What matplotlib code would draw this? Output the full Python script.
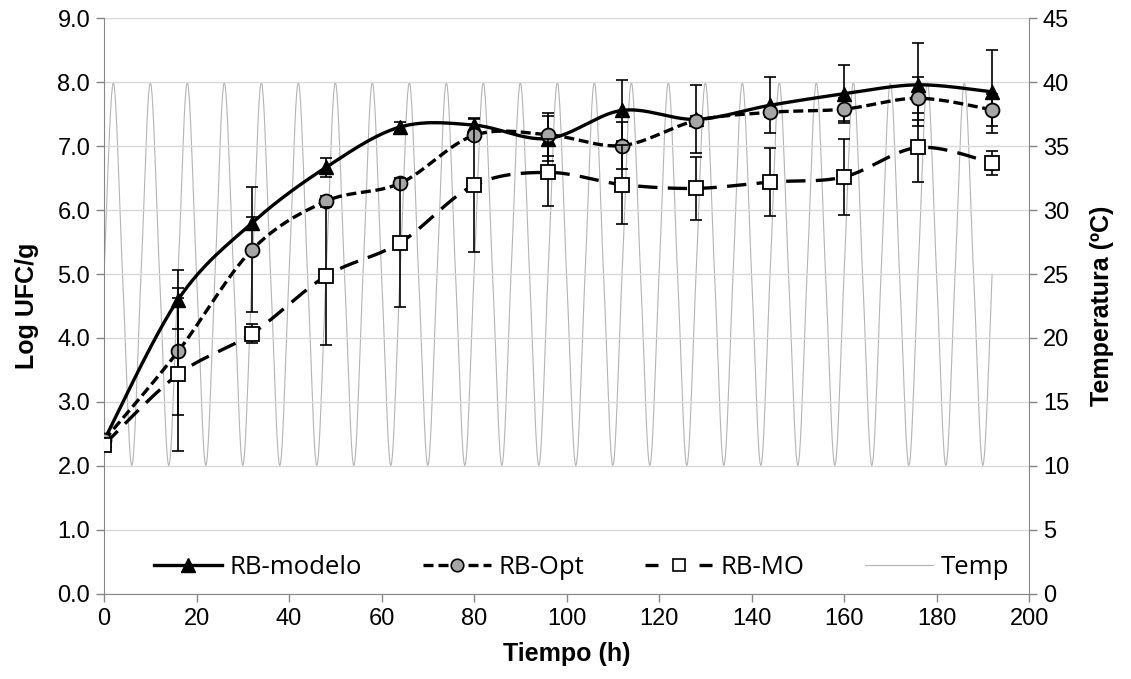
import matplotlib
matplotlib.use('Agg')
import matplotlib.pyplot as plt
from matplotlib.lines import Line2D
import numpy as np

# Datos
tiempo = [0, 16, 32, 48, 64, 80, 96, 112, 128, 144, 160, 176, 192]

rb_modelo = [2.40, 4.60, 5.80, 6.67, 7.30, 7.33, 7.12, 7.56, 7.42, 7.64, 7.82, 7.96, 7.85]
rb_modelo_err = [0.05, 0.46, 0.10, 0.15, 0.08, 0.10, 0.35, 0.48, 0.53, 0.44, 0.45, 0.65, 0.65]

rb_opt = [2.40, 3.79, 5.38, 6.14, 6.42, 7.17, 7.18, 7.01, 7.40, 7.53, 7.58, 7.75, 7.57]
rb_opt_err = [0.03, 0.99, 0.98, 0.08, 0.08, 0.08, 0.34, 0.37, 0.08, 0.08, 0.18, 0.34, 0.25]

rb_mo = [2.33, 3.43, 4.07, 4.97, 5.49, 6.39, 6.59, 6.40, 6.34, 6.44, 6.52, 6.98, 6.74]
rb_mo_err = [0.03, 1.19, 0.15, 1.08, 1.01, 1.05, 0.52, 0.62, 0.49, 0.53, 0.60, 0.54, 0.19]

# Programa de temperatura: ciclo de 8 h (25-40-25-10 ºC) cada 2 h
temp_horas = list(range(0, 193, 2))
temp_ciclo = [25, 40, 25, 10]
temp_valores = temp_ciclo * 24 + [25]


def suavizar(x, y, n=40):
    """Curva suavizada estilo Excel (Catmull-Rom como Bezier)"""
    x = np.asarray(x, float)
    y = np.asarray(y, float)
    px = np.concatenate([[x[0]], x, [x[-1]]])
    py = np.concatenate([[y[0]], y, [y[-1]]])
    s = np.linspace(0, 1, n)
    xs, ys = [], []
    for i in range(len(x) - 1):
        x0, y0 = px[i + 1], py[i + 1]
        x3, y3 = px[i + 2], py[i + 2]
        x1 = x0 + (px[i + 2] - px[i]) / 6
        y1 = y0 + (py[i + 2] - py[i]) / 6
        x2 = x3 - (px[i + 3] - px[i + 1]) / 6
        y2 = y3 - (py[i + 3] - py[i + 1]) / 6
        b0 = (1 - s) ** 3
        b1 = 3 * (1 - s) ** 2 * s
        b2 = 3 * (1 - s) * s ** 2
        b3 = s ** 3
        xs.append(b0 * x0 + b1 * x1 + b2 * x2 + b3 * x3)
        ys.append(b0 * y0 + b1 * y1 + b2 * y2 + b3 * y3)
    return np.concatenate(xs), np.concatenate(ys)


plt.rcParams['font.family'] = 'Liberation Sans'
gris_eje = '#868686'

fig = plt.figure(figsize=(11.31, 6.79), dpi=100)
ax = fig.add_axes([0.0920, 0.1256, 0.8179, 0.8474])
ax2 = ax.twinx()

# Temperatura en el eje secundario (detras)
tx, ty = suavizar(temp_horas, temp_valores, n=12)
ax2.plot(tx, ty, color='#b4b4b4', linewidth=0.8)
ax2.set_ylim(0, 45)
ax2.set_yticks(range(0, 46, 5))

ax.set_zorder(ax2.get_zorder() + 1)
ax.patch.set_visible(False)

series = [
    (rb_modelo, rb_modelo_err, '-', dict(marker='^', markersize=10, markerfacecolor='black', markeredgecolor='black')),
    (rb_opt, rb_opt_err, (0, (3.0, 1.4)), dict(marker='o', markersize=10, markerfacecolor='#a6a6a6', markeredgecolor='black', markeredgewidth=1.3)),
    (rb_mo, rb_mo_err, (0, (5.8, 3.1)), dict(marker='s', markersize=10, markerfacecolor='white', markeredgecolor='black', markeredgewidth=1.3)),
]

for k, (valores, errores, estilo, mk) in enumerate(series):
    sx, sy = suavizar(tiempo, valores)
    ax.plot(sx, sy, color='black', linewidth=2.4, linestyle=estilo, zorder=3 + 3 * k)
    ax.errorbar(tiempo, valores, yerr=errores, fmt='none', ecolor='black',
                elinewidth=1.2, capsize=4.5, capthick=1.2, zorder=4 + 3 * k)
    ax.plot(tiempo, valores, linestyle='none', zorder=5 + 3 * k, **mk)

ax.set_xlim(0, 200)
ax.set_ylim(0, 9)
ax.set_xticks(range(0, 201, 20))
ax.set_yticks(np.arange(0, 9.01, 1.0))
ax.set_yticklabels([f'{v:.1f}' for v in np.arange(0, 9.01, 1.0)])
ax.yaxis.grid(True, color='#d9d9d9', linewidth=1)
ax.set_axisbelow(True)

for a in (ax, ax2):
    a.spines['top'].set_visible(False)
    a.tick_params(direction='out', length=6, width=1, color=gris_eje, labelsize=17, pad=4)
ax.spines['right'].set_visible(False)
ax.spines['left'].set_color(gris_eje)
ax.spines['bottom'].set_color(gris_eje)
ax2.spines['left'].set_visible(False)
ax2.spines['bottom'].set_visible(False)
ax2.spines['right'].set_color(gris_eje)

ax.set_xlabel('Tiempo (h)', fontsize=18, fontweight='bold', labelpad=9)
ax.set_ylabel('Log UFC/g', fontsize=18, fontweight='bold', labelpad=13)
ax2.set_ylabel('Temperatura (ºC)', fontsize=18, fontweight='bold', labelpad=15)

# Leyenda
manejadores = [
    Line2D([], [], color='black', linewidth=2.4, linestyle='-', marker='^', markersize=10, markerfacecolor='black'),
    Line2D([], [], color='black', linewidth=2.4, linestyle=(0, (3.0, 1.5)), marker='o', markersize=9,
           markerfacecolor='#a6a6a6', markeredgecolor='black', markeredgewidth=1.2),
    Line2D([], [], color='black', linewidth=2.4, linestyle=(0, (3.9, 12.3)), marker='s', markersize=9,
           markerfacecolor='white', markeredgecolor='black', markeredgewidth=1.2),
    Line2D([], [], color='#b4b4b4', linewidth=0.8),
]
etiquetas = ['RB-modelo', 'RB-Opt', 'RB-MO', 'Temp']
leg = ax.legend(manejadores, etiquetas, loc='center', bbox_to_anchor=(0.516, 0.046), ncol=4,
                frameon=False, handlelength=2.65, handletextpad=0.3, columnspacing=2.35,
                prop={'family': 'Open Sans', 'size': 18.5}, borderaxespad=0)
leg.set_zorder(20)

plt.savefig('out.png', dpi=100, facecolor='white')
plt.close()
